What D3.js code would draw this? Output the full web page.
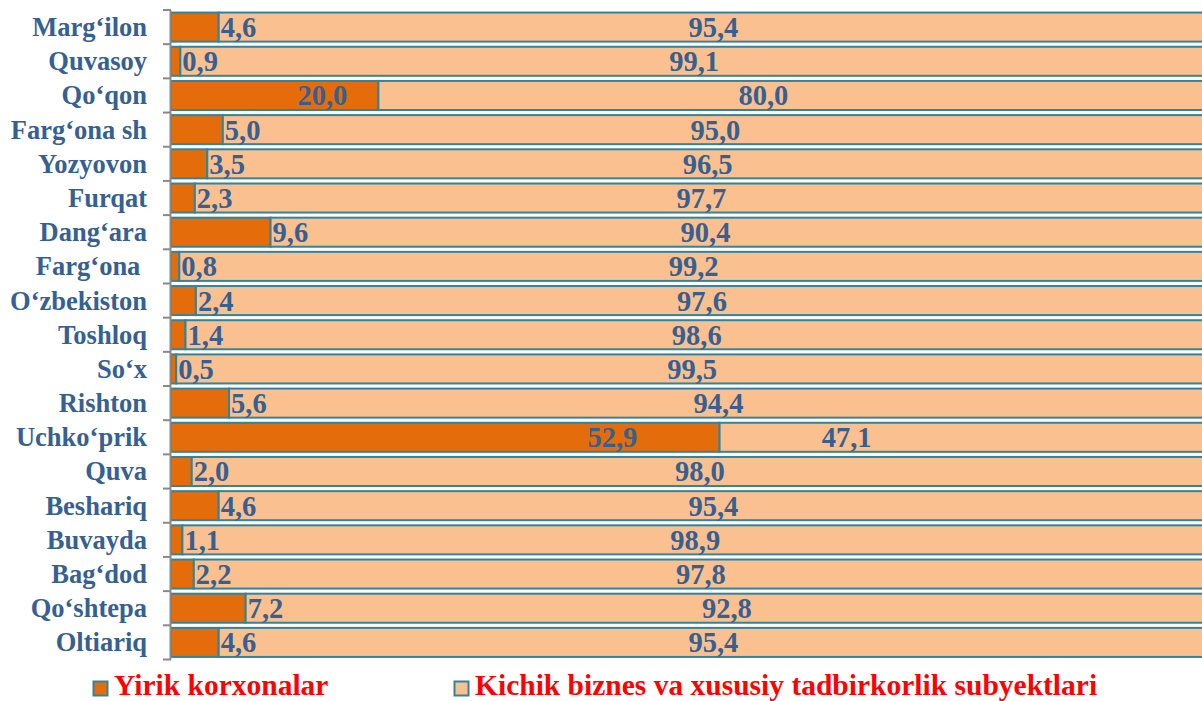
<!DOCTYPE html>
<html>
<head>
<meta charset="utf-8">
<script src="https://cdn.jsdelivr.net/npm/d3@7"></script>
<style>
  html, body { margin: 0; padding: 0; background: #fff; overflow: hidden; }
  svg { display: block; }
</style>
</head>
<body>
<svg id="chart" width="1202" height="701"></svg>
<script>
const categories = ["Marg‘ilon", "Quvasoy", "Qo‘qon", "Farg‘ona sh", "Yozyovon", "Furqat", "Dang‘ara", "Farg‘ona ", "O‘zbekiston", "Toshloq", "So‘x", "Rishton", "Uchko‘prik", "Quva", "Beshariq", "Buvayda", "Bag‘dod", "Qo‘shtepa", "Oltiariq"];
const yirik = [4.6, 0.9, 20.0, 5.0, 3.5, 2.3, 9.6, 0.8, 2.4, 1.4, 0.5, 5.6, 52.9, 2.0, 4.6, 1.1, 2.2, 7.2, 4.6];
const kichik = [95.4, 99.1, 80.0, 95.0, 96.5, 97.7, 90.4, 99.2, 97.6, 98.6, 99.5, 94.4, 47.1, 98.0, 95.4, 98.9, 97.8, 92.8, 95.4];
const seriesNames = ["Yirik korxonalar", "Kichik biznes va xususiy tadbirkorlik subyektlari"];

const colors = ["#E46C0A", "#FAC090"];
const borderColor = "#31849B";
const labelColor = "#376092";
const fontSerif = "'Liberation Serif', 'Times New Roman', serif";

const svg = d3.select("#chart");
const x = d3.scaleLinear().domain([0, 100]).range([171, 1208]);
const y = d3.scaleBand().domain(categories).range([10, 659.5]).paddingInner(0.15).paddingOuter(0.075);
const fmt = v => d3.format(".1f")(v).replace(".", ",");

const rows = categories.map((c, i) => ({ c, a: yirik[i], b: kichik[i] }));

// bars
const g = svg.append("g");
g.selectAll("rect.s1").data(rows).join("rect").attr("class", "s1")
  .attr("x", x(0)).attr("y", d => y(d.c))
  .attr("width", d => x(d.a) - x(0)).attr("height", y.bandwidth())
  .attr("fill", colors[0]).attr("stroke", borderColor).attr("stroke-width", 2);
g.selectAll("rect.s2").data(rows).join("rect").attr("class", "s2")
  .attr("x", d => x(d.a)).attr("y", d => y(d.c))
  .attr("width", d => x(d.a + d.b) - x(d.a)).attr("height", y.bandwidth())
  .attr("fill", colors[1]).attr("stroke", borderColor).attr("stroke-width", 2);

// axis line with ticks at band boundaries
const step = y.step();
const axisTop = y.range()[0], axisBottom = y.range()[1];
svg.append("line").attr("x1", 170.5).attr("x2", 170.5).attr("y1", axisTop).attr("y2", axisBottom)
  .attr("stroke", "#898989").attr("stroke-width", 2);
svg.selectAll("line.tick").data(d3.range(categories.length + 1)).join("line").attr("class", "tick")
  .attr("x1", 163).attr("x2", 171)
  .attr("y1", i => axisTop + i * step).attr("y2", i => axisTop + i * step)
  .attr("stroke", "#898989").attr("stroke-width", 2);

// category labels
svg.selectAll("text.cat").data(rows).join("text").attr("class", "cat")
  .attr("x", 147).attr("y", d => y(d.c) + y.bandwidth() / 2 + 9)
  .attr("text-anchor", "end").attr("xml:space", "preserve").style("white-space", "pre")
  .attr("font-family", fontSerif).attr("font-weight", "bold").attr("font-size", 26.5)
  .attr("fill", labelColor).text(d => d.c);

// value labels, series 1
svg.selectAll("text.v1").data(rows).join("text").attr("class", "v1")
  .attr("x", d => d.a >= 15 ? x(d.a) - (x(d.a) - x(0)) * 0.15 : x(d.a) + 2)
  .attr("text-anchor", d => d.a >= 15 ? "end" : "start")
  .attr("y", d => y(d.c) + y.bandwidth() / 2 + 10)
  .attr("font-family", fontSerif).attr("font-weight", "bold").attr("font-size", 28.5)
  .attr("fill", labelColor).text(d => fmt(d.a));

// value labels, series 2
const share = a => a < 9 ? 0.5 : (a < 30 ? 0.464 : 0.26);
svg.selectAll("text.v2").data(rows).join("text").attr("class", "v2")
  .attr("x", d => x(d.a + d.b * share(d.a)))
  .attr("text-anchor", "middle")
  .attr("y", d => y(d.c) + y.bandwidth() / 2 + 10)
  .attr("font-family", fontSerif).attr("font-weight", "bold").attr("font-size", 28.5)
  .attr("fill", labelColor).text(d => fmt(d.b));

// legend
const legendX = [93, 454];
const leg = svg.selectAll("g.leg").data(seriesNames).join("g").attr("class", "leg")
  .attr("transform", (d, i) => `translate(${legendX[i]},681)`);
leg.append("rect").attr("x", 0.5).attr("y", 0.5).attr("width", 14).attr("height", 14)
  .attr("fill", (d, i) => colors[i]).attr("stroke", borderColor).attr("stroke-width", 2);
leg.append("text").attr("x", 21).attr("y", 14)
  .attr("font-family", fontSerif).attr("font-weight", "bold").attr("font-size", 29.5)
  .attr("fill", "#FF0000").text(d => d);
</script>
</body>
</html>
